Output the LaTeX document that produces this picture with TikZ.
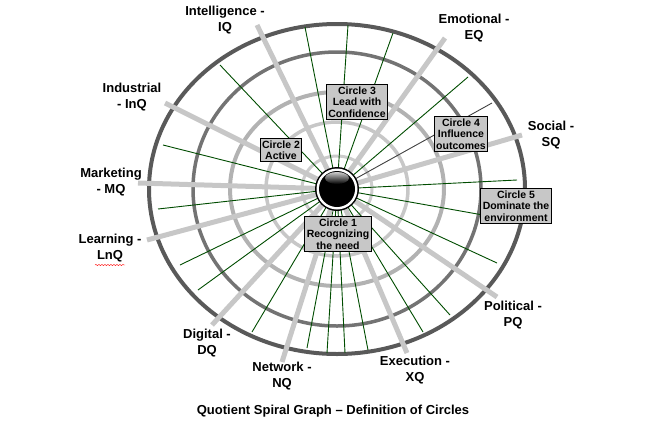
\documentclass[tikz,border=0pt]{standalone}
\usepackage{fontspec}
\setmainfont{Liberation Sans}
\usetikzlibrary{decorations.pathmorphing}
\begin{document}
\begin{tikzpicture}[x=1pt,y=-1pt,
  greenline/.style={draw=green!30!black,line width=0.9pt},
  spoke/.style={draw=black!22,line width=5pt},
  cbox/.style={draw=black,fill=black!22,line width=1pt,font=\fontsize{10.5}{11.5}\selectfont\bfseries,align=center,inner sep=2pt},
  lab/.style={font=\fontsize{13}{15.5}\selectfont\bfseries,align=center}]
\useasboundingbox (0,0) rectangle (651,440);
\coordinate (c) at (337,189);
% rings
\draw[black!20,line width=3pt] (c) ellipse [x radius=35,y radius=33];
\draw[black!22,line width=3.5pt] (c) ellipse [x radius=71,y radius=67];
\draw[black!30,line width=4pt] (c) ellipse [x radius=107,y radius=97];
\draw[black!55,line width=3.5pt] (c) ellipse [x radius=144,y radius=137];
\draw[black!65,line width=4pt] (c) ellipse [x radius=188,y radius=165];
% green radial lines
\foreach \p in {(220,65),(305,27),(348,25),(393,33),(468,77),(163,145),(517,180),(158,209),(180,265),(198,290),(252,332),(307,348),(327,353),(345,353),(368,350),(423,332),(450,315),(497,263),(483,215)}
  \draw[greenline] (c) -- \p;
\draw[black!75,line width=0.9pt] (c) -- (492,103);
% spokes
\foreach \p in {(257,25),(445,38),(522,135),(165,103),(138,183),(147,240),(212,325),(282,362),(407,353),(497,297)}
  \draw[spoke] (c) -- \p;
% boxes
\node[cbox] (c3) at (357,102) {Circle 3\\Lead with\\Confidence};
\node[cbox] (c4) at (461,134) {Circle 4\\Influence\\outcomes};
\node[cbox] (c2) at (281,150) {Circle 2\\Active};
\node[cbox] (c1) at (338,234) {Circle 1\\Recognizing\\the need};
\node[cbox] (c5) at (516,206) {Circle 5\\Dominate the\\environment};
% ball
\fill[black] (c) circle (22);
\fill[white] (c) circle (20.5);
\fill[black] (c) circle (18);
\shade[top color=white,bottom color=black,opacity=0.8] (337,178) ellipse [x radius=12,y radius=6];
% labels
\node[lab] (iq) at (225,20) {Intelligence -\\IQ};
\node[lab] (eq) at (474,28) {Emotional -\\EQ};
\node[lab] (sq) at (551,135) {Social -\\SQ};
\node[lab] (inq) at (132,97) {Industrial\\- InQ};
\node[lab] (mq) at (111,182) {Marketing\\- MQ};
\node[lab] (lnq) at (110,248) {Learning -\\LnQ};
\draw[red,decorate,decoration={snake,amplitude=0.6pt,segment length=3pt}] (95,265) -- (125,265);
\node[lab] (dq) at (207,343) {Digital -\\DQ};
\node[lab] (nq) at (282,376) {Network -\\NQ};
\node[lab] (xq) at (415,370) {Execution -\\XQ};
\node[lab] (pq) at (513,315) {Political -\\PQ};
\node[font=\fontsize{13}{15}\selectfont\bfseries] (t) at (333,411) {Quotient Spiral Graph – Definition of Circles};
\end{tikzpicture}
\end{document}
